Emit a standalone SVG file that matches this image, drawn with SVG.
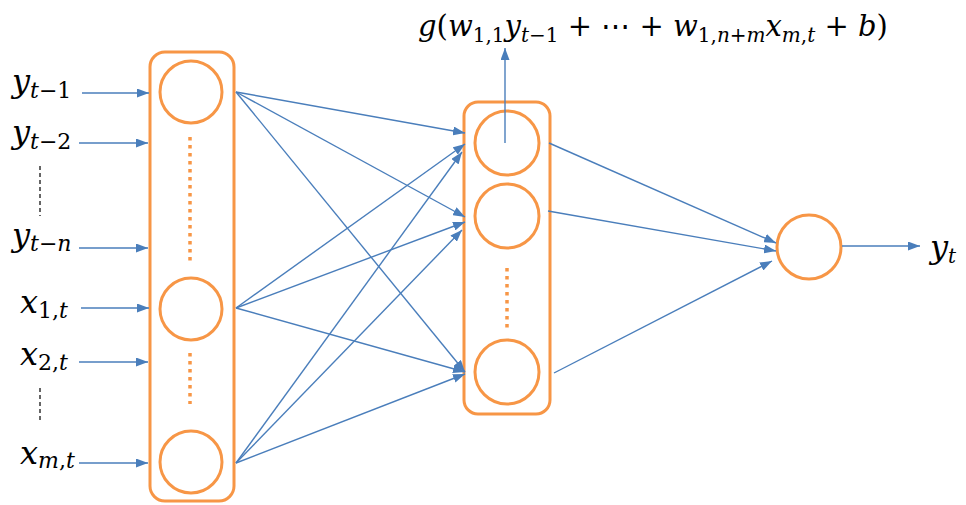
<svg xmlns="http://www.w3.org/2000/svg" width="966" height="505" viewBox="0 0 966 505">
<defs>
<marker id="ah" markerUnits="userSpaceOnUse" markerWidth="12" markerHeight="9" refX="12" refY="4.5" orient="auto">
<path d="M0,0 L12,4.5 L0,9 z" fill="#4A7EBB"/>
</marker>
<style>
.box{fill:none;stroke:#F79646;stroke-width:3}
.nd{fill:#fff;stroke:#F79646;stroke-width:3}
.dot{stroke:#F79646;stroke-width:3.5;stroke-dasharray:3.5 4.5}
.cn line{stroke:#4A7EBB;stroke-width:1.4;marker-end:url(#ah)}
.dash{stroke:#333;stroke-width:1.5;stroke-dasharray:4 3}
text{font-family:"DejaVu Serif","Liberation Serif",serif;fill:#000}
.m{font-size:32px}
.f{font-size:29px}
.s{font-size:20px}
.sl{font-size:22px}
.i{font-style:italic}
</style>
</defs>
<rect width="966" height="505" fill="#fff"/>

<g id="input-layer">
<rect class="box" x="150" y="52" width="84" height="449" rx="15"/>
<circle id="in1" class="nd" cx="191" cy="92" r="31"/>
<circle id="in2" class="nd" cx="191" cy="309" r="31"/>
<circle id="in3" class="nd" cx="191" cy="462" r="31"/>
<line class="dot" x1="190" y1="137" x2="190" y2="264"/>
<line class="dot" x1="190" y1="353" x2="190" y2="404"/>
</g>

<g id="hidden-layer">
<rect class="box" x="464" y="102" width="86" height="312" rx="14"/>
<circle id="h1" class="nd" cx="507" cy="143" r="32"/>
<circle id="h2" class="nd" cx="507" cy="216" r="32"/>
<circle id="h3" class="nd" cx="507" cy="372" r="32"/>
<line class="dot" x1="507" y1="268" x2="507" y2="330"/>
</g>

<g id="output-node">
<circle class="nd" cx="809" cy="247" r="32"/>
</g>

<g id="connectors" class="cn">
<line x1="82" y1="93" x2="149" y2="93"/>
<line x1="79" y1="143" x2="148" y2="143"/>
<line x1="79" y1="248" x2="148" y2="248"/>
<line x1="81" y1="308" x2="149" y2="308"/>
<line x1="79" y1="362" x2="148" y2="362"/>
<line x1="79" y1="463" x2="148" y2="463"/>

<line x1="236" y1="92" x2="465" y2="133"/>
<line x1="236" y1="92" x2="465" y2="217"/>
<line x1="236" y1="92" x2="465" y2="372"/>
<line x1="236" y1="308" x2="465" y2="144"/>
<line x1="236" y1="308" x2="465" y2="222"/>
<line x1="236" y1="308" x2="465" y2="372"/>
<line x1="236" y1="463" x2="462" y2="152"/>
<line x1="236" y1="463" x2="462" y2="230"/>
<line x1="236" y1="463" x2="465" y2="374"/>

<line x1="549" y1="143" x2="776" y2="243"/>
<line x1="548" y1="211" x2="776" y2="251"/>
<line x1="554" y1="373" x2="772" y2="261"/>

<line x1="842" y1="246" x2="920" y2="246"/>
<line x1="505" y1="143" x2="505" y2="48"/>
</g>

<g id="dashes">
<line class="dash" x1="40" y1="166" x2="40" y2="216"/>
<line class="dash" x1="40" y1="388" x2="40" y2="422"/>
</g>

<g id="labels">
<text class="m" x="12" y="92"><tspan class="i">y</tspan><tspan class="sl" dy="6"><tspan class="i">t</tspan>−1</tspan></text>
<text class="m" x="12" y="143"><tspan class="i">y</tspan><tspan class="sl" dy="6"><tspan class="i">t</tspan>−2</tspan></text>
<text class="m" x="12" y="246"><tspan class="i">y</tspan><tspan class="sl" dy="5"><tspan class="i">t</tspan>−<tspan class="i">n</tspan></tspan></text>
<text class="m" x="20" y="313"><tspan class="i">x</tspan><tspan class="sl" dy="5">1,<tspan class="i">t</tspan></tspan></text>
<text class="m" x="20" y="365"><tspan class="i">x</tspan><tspan class="sl" dy="5">2,<tspan class="i">t</tspan></tspan></text>
<text class="m" x="20" y="464"><tspan class="i">x</tspan><tspan class="sl" dy="4"><tspan class="i">m</tspan>,<tspan class="i">t</tspan></tspan></text>
<text class="m" x="930" y="258"><tspan class="i">y</tspan><tspan class="s i" dy="5">t</tspan></text>

<text class="f" x="418" y="36"><tspan class="i">g</tspan>(<tspan class="i">w</tspan><tspan class="s" dy="6">1,1</tspan><tspan class="i" dy="-6">y</tspan><tspan class="s" dy="6"><tspan class="i">t</tspan>−1</tspan><tspan dy="-6"> + ⋯ + </tspan><tspan class="i">w</tspan><tspan class="s" dy="6">1,<tspan class="i">n</tspan>+<tspan class="i">m</tspan></tspan><tspan class="i" dy="-6">x</tspan><tspan class="s" dy="6"><tspan class="i">m</tspan>,<tspan class="i">t</tspan></tspan><tspan dy="-6"> + </tspan><tspan class="i">b</tspan>)</text>
</g>
</svg>
